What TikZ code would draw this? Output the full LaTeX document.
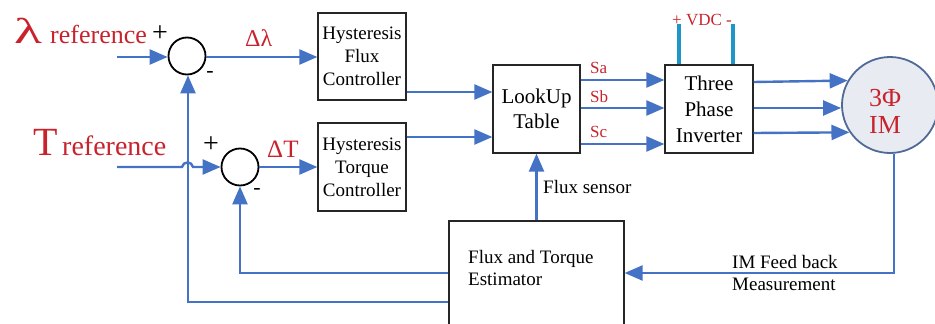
\documentclass[tikz,border=0pt]{standalone}
\usepackage{fontspec}
\setmainfont{Liberation Serif}
\usetikzlibrary{arrows.meta}
\definecolor{lnblue}{RGB}{68,114,196}
\definecolor{txtred}{RGB}{200,35,45}
\definecolor{vdcblue}{RGB}{30,150,200}
\definecolor{motfill}{RGB}{232,236,242}
\definecolor{motdraw}{RGB}{80,105,150}
\begin{document}
\begin{tikzpicture}[x=1pt,y=-1pt,
  blk/.style={draw=black!85, line width=1.3pt, fill=white, inner sep=0pt, align=center, font=\fontsize{19}{23}\selectfont},
  sig/.style={draw=lnblue, line width=2.4pt, -{Triangle[length=18pt,width=15pt]}},
  vdcline/.style={draw=vdcblue, line width=3.5pt},
  sumj/.style={circle, draw=black, line width=1.8pt, minimum size=37pt, inner sep=0pt, fill=white},
  redtxt/.style={text=txtred, inner sep=0pt},
  plaintxt/.style={inner sep=0pt, align=left, font=\fontsize{19}{22}\selectfont},
  signtxt/.style={inner sep=0pt, font=\fontsize{28}{28}\selectfont},
]
\useasboundingbox (0,0) rectangle (935,324);

% summing junctions
\node[sumj] (s1) at (187,56) {};
\node[sumj] (s2) at (240,167) {};

% blocks
\node[blk, minimum width=88pt, minimum height=87pt] (hf) at (362,56.5) {Hysteresis\\Flux\\Controller};
\node[blk, minimum width=88pt, minimum height=88pt] (ht) at (362,167) {Hysteresis\\Torque\\Controller};
\node[blk, minimum width=87pt, minimum height=88pt, font=\fontsize{21}{25}\selectfont] (lut) at (536.5,109) {LookUp\\Table};
\node[blk, minimum width=88pt, minimum height=88pt, font=\fontsize{21}{26}\selectfont] (inv) at (709,109) {Three\\Phase\\Inverter};
\node[blk, minimum width=175pt, minimum height=124pt] (est) at (536.5,283) {};
\node[plaintxt, anchor=west] (estlbl) at (468,268) {Flux and Torque\\Estimator};

% motor
\node[circle, draw=motdraw, fill=motfill, line width=1.8pt, minimum size=96pt, inner sep=0pt] (mot) at (890,105) {};
\node[redtxt, align=center, font=\fontsize{26}{27}\selectfont] (motlbl) at (885,111) {3Φ\\IM};

% input labels
\node[redtxt, anchor=base west, font=\fontsize{36}{36}\selectfont] (laml) at (14,43) {\scalebox{1.6}[1]{λ}};
\node[redtxt, anchor=base west, font=\fontsize{26}{26}\selectfont] (lamref) at (50,43) {reference};
\node[signtxt] (p1) at (160,34) {+};
\node[inner sep=0pt, font=\fontsize{22}{22}\selectfont] (m1) at (210,74) {-};
\node[redtxt, anchor=base west, font=\fontsize{40}{40}\selectfont] (tl) at (33,155) {T};
\node[redtxt, anchor=base west, font=\fontsize{28}{28}\selectfont] (tref) at (62,155) {reference};
\node[signtxt] (p2) at (211,145) {+};
\node[inner sep=0pt, font=\fontsize{22}{22}\selectfont] (m2) at (257,191) {-};
\node[redtxt, anchor=base west, font=\fontsize{24}{24}\selectfont] (dl) at (245,46) {Δλ};
\node[redtxt, anchor=base west, font=\fontsize{25}{25}\selectfont] (dt) at (267,157) {ΔT};

% switching signal labels
\node[redtxt, anchor=base west, font=\fontsize{17}{17}\selectfont] (sa) at (590,73) {Sa};
\node[redtxt, anchor=base west, font=\fontsize{17}{17}\selectfont] (sb) at (590,102) {Sb};
\node[redtxt, anchor=base west, font=\fontsize{17}{17}\selectfont] (sc) at (590,137) {Sc};
\node[redtxt, anchor=base west, font=\fontsize{17}{17}\selectfont] (vdc) at (672,25) {+ VDC -};

\node[plaintxt, anchor=base west] (fs) at (543,193) {Flux sensor};
\node[plaintxt, anchor=west] (fb) at (732,273) {IM Feed back\\Measurement};

% connectors
\coordinate (lamin) at (117,57);
\coordinate (tin) at (117,167);
\draw[sig] (lamin) -- (lamin -| s1.west);
\draw[sig] (tin) -- (182,167) .. controls (183,161) and (192,161) .. (193,167) -- (s2.west);
\draw[sig] (s1.east |- lamin) -- (lamin -| hf.west);
\draw[sig] (s2.east) -- (s2.east -| ht.west);
\draw[sig] (hf.east |- 0,92) -- (lut.west |- 0,92);
\draw[sig] (ht.east |- 0,137) -- (lut.west |- 0,137);
\draw[sig] (lut.east |- 0,80) -- (inv.west |- 0,80);
\draw[sig] (lut.east |- 0,108) -- (inv.west |- 0,108);
\draw[sig] (lut.east |- 0,144) -- (inv.west |- 0,144);
\draw[sig] (inv.east |- 0,82) -- (mot.150);
\draw[sig] (inv.east |- 0,108) -- (mot.west |- 0,108);
\draw[sig] (inv.east |- 0,133) -- (mot.214);
\draw[vdcline] (inv.north -| 679,0) -- ++(0,-40);
\draw[vdcline] (inv.north -| 733,0) -- ++(0,-40);
\draw[sig] (mot.275) |- (est.east |- 0,273);
\draw[sig] (est.north) -- (lut.south);
\draw[sig] (est.west |- 0,273) -| (s2.south);
\draw[sig] (est.west |- 0,302) -| (s1.south -| 188,0);
\end{tikzpicture}
\end{document}
